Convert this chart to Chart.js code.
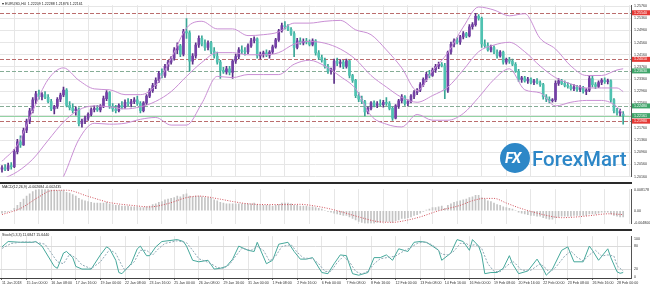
<!DOCTYPE html>
<html>
<head>
<meta charset="utf-8">
<script src="https://cdn.jsdelivr.net/npm/chart.js@4.4.1/dist/chart.umd.min.js"></script>
<style>
  html, body { margin: 0; padding: 0; background: #fff; }
  #wrap { position: relative; width: 650px; height: 288px; overflow: hidden; background: #fff; }
  canvas { position: absolute; left: 0; }
  .sep { position: absolute; left: 0; width: 632px; background: #2a2a2a; }
  #fxBadge { position: absolute; left: 500px; top: 143px; width: 30px; height: 30px; border-radius: 50%; background: #2d87c7; }
  #fxBadge span { position: absolute; left: 5px; top: 6px; font: italic 700 15px/18px Roboto, sans-serif; color: #fff; letter-spacing: -1px; }
  #fxName { position: absolute; left: 532px; top: 149px; font: 500 20.5px/20px Roboto, sans-serif; color: #2d87c7; }
</style>
</head>
<body>
<div id="wrap">
  <canvas id="main" width="650" height="182" style="top:0"></canvas>
  <div class="sep" style="top:182px;height:2px"></div>
  <canvas id="macd" width="650" height="45" style="top:184px"></canvas>
  <div class="sep" style="top:229px;height:2px"></div>
  <canvas id="stoch" width="650" height="57" style="top:231px"></canvas>
  <div id="fxBadge"><span>FX</span></div>
  <div id="fxName">ForexMart</div>
</div>
<script>
// EURUSD H4, 11 Jan - 28 Feb 2018, one entry per bar
const tickLabels = ['11 Jan 2018','15 Jan 00:00','16 Jan 08:00','17 Jan 16:00','19 Jan 00:00','22 Jan 08:00',
  '23 Jan 16:00','25 Jan 00:00','26 Jan 08:00','29 Jan 16:00','31 Jan 00:00','1 Feb 08:00','2 Feb 16:00',
  '6 Feb 00:00','7 Feb 08:00','8 Feb 16:00','12 Feb 00:00','13 Feb 08:00','14 Feb 16:00','16 Feb 00:00',
  '19 Feb 08:00','20 Feb 16:00','22 Feb 00:00','23 Feb 08:00','26 Feb 16:00','28 Feb 00:00'];

const opens = [
  1.2040,1.2045,1.2040,1.2052,1.2048,1.2098,1.2130,1.2120,1.2168,1.2198,
  1.2232,1.2268,1.2288,1.2278,1.2285,1.2276,1.2262,1.2238,1.2246,1.2270,
  1.2284,1.2300,1.2250,1.2242,1.2232,1.2238,1.2190,1.2198,1.2208,1.2220,
  1.2236,1.2240,1.2235,1.2248,1.2272,1.2292,1.2246,1.2238,1.2232,1.2250,
  1.2245,1.2260,1.2255,1.2262,1.2268,1.2256,1.2232,1.2258,1.2280,1.2298,
  1.2315,1.2332,1.2355,1.2348,1.2378,1.2392,1.2405,1.2432,1.2445,1.2418,
  1.2492,1.2488,1.2395,1.2412,1.2448,1.2470,1.2452,1.2440,1.2455,1.2428,
  1.2412,1.2392,1.2365,1.2360,1.2370,1.2358,1.2395,1.2410,1.2432,1.2428,
  1.2425,1.2445,1.2462,1.2468,1.2412,1.2418,1.2422,1.2415,1.2425,1.2442,
  1.2465,1.2495,1.2512,1.2508,1.2500,1.2486,1.2440,1.2462,1.2455,1.2460,
  1.2458,1.2450,1.2462,1.2422,1.2408,1.2398,1.2378,1.2362,1.2368,1.2395,
  1.2388,1.2392,1.2378,1.2396,1.2348,1.2332,1.2282,1.2270,1.2262,1.2228,
  1.2240,1.2258,1.2250,1.2255,1.2252,1.2260,1.2256,1.2240,1.2208,1.2248,
  1.2265,1.2278,1.2256,1.2262,1.2280,1.2292,1.2300,1.2318,1.2335,1.2352,
  1.2348,1.2366,1.2378,1.2385,1.2380,1.2300,1.2425,1.2450,1.2462,1.2458,
  1.2475,1.2486,1.2478,1.2508,1.2515,1.2542,1.2536,1.2452,1.2446,1.2432,
  1.2440,1.2425,1.2412,1.2425,1.2392,1.2400,1.2395,1.2385,1.2362,1.2335,
  1.2340,1.2330,1.2336,1.2325,1.2330,1.2324,1.2318,1.2278,1.2270,1.2265,
  1.2268,1.2322,1.2330,1.2322,1.2315,1.2312,1.2305,1.2310,1.2302,1.2308,
  1.2296,1.2300,1.2338,1.2318,1.2312,1.2325,1.2332,1.2328,1.2330,1.2268,
  1.2232,1.2225,1.2221];
const highs = [
  1.2052,1.2055,1.2060,1.2062,1.2105,1.2138,1.2150,1.2175,1.2205,1.2240,
  1.2275,1.2296,1.2300,1.2292,1.2295,1.2285,1.2270,1.2250,1.2275,1.2290,
  1.2310,1.2305,1.2262,1.2255,1.2245,1.2242,1.2205,1.2215,1.2225,1.2242,
  1.2248,1.2250,1.2252,1.2280,1.2298,1.2295,1.2256,1.2250,1.2255,1.2262,
  1.2268,1.2272,1.2270,1.2275,1.2280,1.2262,1.2262,1.2285,1.2305,1.2322,
  1.2340,1.2362,1.2370,1.2385,1.2398,1.2410,1.2440,1.2455,1.2450,1.2500,
  1.2535,1.2495,1.2420,1.2455,1.2478,1.2478,1.2465,1.2462,1.2460,1.2440,
  1.2425,1.2398,1.2375,1.2378,1.2378,1.2400,1.2418,1.2440,1.2445,1.2440,
  1.2452,1.2470,1.2475,1.2472,1.2425,1.2428,1.2432,1.2430,1.2448,1.2470,
  1.2500,1.2520,1.2525,1.2515,1.2505,1.2492,1.2470,1.2472,1.2468,1.2470,
  1.2465,1.2468,1.2466,1.2430,1.2415,1.2405,1.2385,1.2372,1.2402,1.2405,
  1.2400,1.2398,1.2402,1.2398,1.2352,1.2335,1.2292,1.2280,1.2266,1.2245,
  1.2262,1.2265,1.2262,1.2268,1.2266,1.2275,1.2262,1.2245,1.2252,1.2270,
  1.2285,1.2282,1.2268,1.2285,1.2298,1.2305,1.2325,1.2340,1.2358,1.2365,
  1.2372,1.2385,1.2392,1.2390,1.2388,1.2428,1.2458,1.2468,1.2472,1.2480,
  1.2492,1.2490,1.2515,1.2522,1.2552,1.2548,1.2540,1.2465,1.2455,1.2448,
  1.2445,1.2432,1.2430,1.2428,1.2405,1.2408,1.2402,1.2390,1.2368,1.2345,
  1.2345,1.2342,1.2340,1.2335,1.2338,1.2330,1.2322,1.2285,1.2278,1.2272,
  1.2330,1.2338,1.2335,1.2330,1.2325,1.2320,1.2318,1.2316,1.2315,1.2312,
  1.2305,1.2345,1.2345,1.2325,1.2330,1.2338,1.2340,1.2336,1.2334,1.2272,
  1.2240,1.2238,1.2229];
const lows = [
  1.2030,1.2035,1.2035,1.2040,1.2045,1.2090,1.2112,1.2118,1.2160,1.2190,
  1.2225,1.2255,1.2270,1.2268,1.2272,1.2258,1.2232,1.2222,1.2240,1.2262,
  1.2278,1.2245,1.2235,1.2225,1.2218,1.2182,1.2178,1.2190,1.2200,1.2215,
  1.2228,1.2230,1.2228,1.2242,1.2265,1.2240,1.2230,1.2225,1.2228,1.2238,
  1.2240,1.2248,1.2245,1.2255,1.2250,1.2225,1.2228,1.2252,1.2275,1.2292,
  1.2305,1.2325,1.2340,1.2342,1.2365,1.2385,1.2398,1.2420,1.2410,1.2412,
  1.2470,1.2362,1.2385,1.2405,1.2440,1.2445,1.2430,1.2432,1.2420,1.2405,
  1.2385,1.2338,1.2355,1.2352,1.2350,1.2338,1.2388,1.2402,1.2420,1.2415,
  1.2420,1.2440,1.2455,1.2405,1.2402,1.2408,1.2410,1.2405,1.2420,1.2438,
  1.2460,1.2490,1.2500,1.2495,1.2480,1.2410,1.2435,1.2450,1.2448,1.2452,
  1.2445,1.2445,1.2415,1.2400,1.2392,1.2372,1.2355,1.2352,1.2322,1.2380,
  1.2375,1.2370,1.2372,1.2340,1.2325,1.2275,1.2262,1.2255,1.2215,1.2222,
  1.2235,1.2245,1.2242,1.2248,1.2244,1.2250,1.2235,1.2200,1.2205,1.2240,
  1.2258,1.2250,1.2248,1.2258,1.2272,1.2285,1.2295,1.2312,1.2328,1.2340,
  1.2345,1.2358,1.2370,1.2376,1.2272,1.2292,1.2418,1.2442,1.2452,1.2450,
  1.2468,1.2472,1.2475,1.2500,1.2510,1.2530,1.2440,1.2440,1.2428,1.2425,
  1.2420,1.2405,1.2408,1.2385,1.2385,1.2388,1.2380,1.2358,1.2328,1.2325,
  1.2326,1.2322,1.2320,1.2318,1.2320,1.2312,1.2270,1.2262,1.2258,1.2260,
  1.2262,1.2315,1.2318,1.2310,1.2306,1.2300,1.2298,1.2296,1.2295,1.2290,
  1.2285,1.2295,1.2310,1.2305,1.2308,1.2318,1.2322,1.2320,1.2260,1.2225,
  1.2218,1.2215,1.2188];
const closes = [
  1.2045,1.2040,1.2052,1.2048,1.2098,1.2130,1.2120,1.2168,1.2198,1.2232,
  1.2268,1.2288,1.2278,1.2285,1.2276,1.2262,1.2238,1.2246,1.2270,1.2284,
  1.2300,1.2250,1.2242,1.2232,1.2238,1.2190,1.2198,1.2208,1.2220,1.2236,
  1.2240,1.2235,1.2248,1.2272,1.2292,1.2246,1.2238,1.2232,1.2250,1.2245,
  1.2260,1.2255,1.2262,1.2268,1.2256,1.2232,1.2258,1.2280,1.2298,1.2315,
  1.2332,1.2355,1.2348,1.2378,1.2392,1.2405,1.2432,1.2445,1.2418,1.2492,
  1.2488,1.2395,1.2412,1.2448,1.2470,1.2452,1.2440,1.2455,1.2428,1.2412,
  1.2392,1.2365,1.2360,1.2370,1.2358,1.2395,1.2410,1.2432,1.2428,1.2425,
  1.2445,1.2462,1.2468,1.2412,1.2418,1.2422,1.2415,1.2425,1.2442,1.2465,
  1.2495,1.2512,1.2508,1.2500,1.2486,1.2440,1.2462,1.2455,1.2460,1.2458,
  1.2450,1.2462,1.2422,1.2408,1.2398,1.2378,1.2362,1.2368,1.2395,1.2388,
  1.2392,1.2378,1.2396,1.2348,1.2332,1.2282,1.2270,1.2262,1.2228,1.2240,
  1.2258,1.2250,1.2255,1.2252,1.2260,1.2256,1.2240,1.2208,1.2248,1.2265,
  1.2278,1.2256,1.2262,1.2280,1.2292,1.2300,1.2318,1.2335,1.2352,1.2348,
  1.2366,1.2378,1.2385,1.2380,1.2300,1.2425,1.2450,1.2462,1.2458,1.2475,
  1.2486,1.2478,1.2508,1.2515,1.2542,1.2536,1.2452,1.2446,1.2432,1.2440,
  1.2425,1.2412,1.2425,1.2392,1.2400,1.2395,1.2385,1.2362,1.2335,1.2340,
  1.2330,1.2336,1.2325,1.2330,1.2324,1.2318,1.2278,1.2270,1.2265,1.2268,
  1.2322,1.2330,1.2322,1.2315,1.2312,1.2305,1.2310,1.2302,1.2308,1.2296,
  1.2300,1.2338,1.2318,1.2312,1.2325,1.2332,1.2328,1.2330,1.2268,1.2232,
  1.2225,1.2228,1.2216];

// Bollinger bands (20, 2), read every 5th bar
const bandBars = [0,5,10,15,20,25,30,35,40,45,50,55,60,65,70,75,80,85,90,95,100,
  105,110,115,120,125,130,135,140,145,150,155,160,165,170,175,180,185,190,195,200,202];
const bbUpper = [1.2066,1.2120,1.2232,1.2335,1.2373,1.2332,1.2304,1.2301,1.2285,1.2285,1.2316,
  1.2404,1.2504,1.2526,1.2501,1.2501,1.2479,1.2482,1.2491,1.2520,1.2520,1.2526,1.2529,1.2498,
  1.2482,1.2432,1.2373,1.2298,1.2363,1.2423,1.2507,1.2573,1.2563,1.2544,1.2551,1.2470,1.2435,
  1.2379,1.2348,1.2348,1.2366,1.2370];
const bbMiddle = [1.2007,1.2032,1.2073,1.2135,1.2195,1.2235,1.2248,1.2245,1.2238,1.2245,1.2263,
  1.2295,1.2345,1.2391,1.2423,1.2423,1.2416,1.2416,1.2423,1.2451,1.2460,1.2454,1.2435,1.2401,
  1.2348,1.2310,1.2276,1.2260,1.2282,1.2310,1.2366,1.2426,1.2448,1.2457,1.2426,1.2379,1.2341,
  1.2320,1.2307,1.2307,1.2307,1.2295];
const bbLower = [1.1948,1.1932,1.1932,1.1935,1.2016,1.2138,1.2191,1.2188,1.2191,1.2204,1.2210,
  1.2185,1.2185,1.2257,1.2345,1.2341,1.2351,1.2351,1.2351,1.2385,1.2398,1.2379,1.2345,1.2304,
  1.2216,1.2188,1.2179,1.2220,1.2201,1.2201,1.2223,1.2276,1.2335,1.2370,1.2301,1.2291,1.2248,
  1.2260,1.2266,1.2266,1.2245,1.2220];

// horizontal levels drawn on the price panel
const levelPrices = [1.2554, 1.2401, 1.2363, 1.2248, 1.22161, 1.2198];
const levelKinds = ['red', 'red', 'green', 'green', 'bid', 'red'];
const priceTicks = [1.2016,1.2056,1.2096,1.2136,1.2176,1.2216,1.2256,1.2296,1.2336,1.2376,
  1.2416,1.2456,1.2496,1.2536,1.2576];

// MACD(12,26,9) histogram, one per bar
const macdHist = [
  -0.0009,-0.0006,-0.0003,0,0.0009,0.0021,0.0033,0.0045,0.0057,0.0066,
  0.0075,0.0081,0.0084,0.0084,0.0084,0.0084,0.0081,0.0081,0.0078,0.0078,
  0.0078,0.0072,0.0069,0.0063,0.0057,0.0048,0.0042,0.0039,0.0036,0.0033,
  0.0030,0.0030,0.0030,0.0030,0.0033,0.0027,0.0024,0.0021,0.0021,0.0018,
  0.0018,0.0018,0.0015,0.0015,0.0015,0.0012,0.0012,0.0015,0.0018,0.0024,
  0.0027,0.0033,0.0036,0.0042,0.0045,0.0048,0.0051,0.0057,0.0054,0.0063,
  0.0066,0.0057,0.0054,0.0057,0.0057,0.0054,0.0051,0.0051,0.0048,0.0042,
  0.0039,0.0033,0.0030,0.0027,0.0027,0.0027,0.0027,0.0027,0.0027,0.0027,
  0.0027,0.0027,0.0030,0.0024,0.0021,0.0021,0.0021,0.0021,0.0018,0.0021,
  0.0024,0.0030,0.0030,0.0030,0.0027,0.0021,0.0021,0.0018,0.0018,0.0018,
  0.0015,0.0015,0.0012,0.0009,0.0006,0,-0.0003,-0.0006,-0.0009,-0.0012,
  -0.0015,-0.0018,-0.0018,-0.0024,-0.0030,-0.0036,-0.0042,-0.0045,-0.0048,-0.0048,
  -0.0048,-0.0048,-0.0045,-0.0045,-0.0042,-0.0042,-0.0042,-0.0045,-0.0039,-0.0036,
  -0.0030,-0.0030,-0.0027,-0.0024,-0.0018,-0.0015,-0.0009,-0.0003,0.0003,0.0006,
  0.0012,0.0012,0.0015,0.0018,0.0009,0.0021,0.0027,0.0033,0.0036,0.0039,
  0.0042,0.0045,0.0051,0.0054,0.0060,0.0060,0.0051,0.0045,0.0039,0.0036,
  0.0030,0.0024,0.0021,0.0015,0.0012,0.0009,0.0006,0,-0.0006,-0.0009,
  -0.0012,-0.0015,-0.0018,-0.0018,-0.0021,-0.0021,-0.0027,-0.0030,-0.0033,-0.0033,
  -0.0027,-0.0024,-0.0021,-0.0021,-0.0021,-0.0021,-0.0018,-0.0018,-0.0018,-0.0018,
  -0.0018,-0.0012,-0.0012,-0.0012,-0.0009,-0.0006,-0.0006,-0.0006,-0.0012,-0.0018,
  -0.0021,-0.0024,-0.0024];
const macdSignalBars = [0,6,12,16,21,28,35,43,48,54,60,64,71,75,80,87,93,97,102,106,110,116,122,
  127,132,136,142,149,153,157,160,164,168,173,177,182,187,192,197,202];
const macdSignal = [-0.0015,0.0009,0.0054,0.0078,0.0080,0.0056,0.0032,0.0020,0.0015,0.0028,0.0051,
  0.0057,0.0045,0.0036,0.0027,0.0024,0.0024,0.0025,0.0018,0.0009,-0.0003,-0.0024,-0.0042,-0.0045,
  -0.0036,-0.0024,0.0000,0.0021,0.0039,0.0048,0.0048,0.0030,0.0012,-0.0006,-0.0018,-0.0027,
  -0.0024,-0.0018,-0.0012,-0.0015];
const macdTicks = [0.008178, 0, -0.0048];

// Stochastic(5,3,3)
const stochBars = [0,2,6,10,11,13,17,18,20,21,23,24,26,29,32,34,35,37,38,39,42,44,45,47,48,50,52,
  57,59,60,62,64,67,69,71,73,75,77,80,82,83,86,88,90,93,95,97,99,101,104,106,108,110,112,114,116,
  119,121,123,125,127,129,132,134,136,138,140,142,143,146,147,148,150,152,153,155,156,157,159,161,
  163,165,166,168,171,174,176,177,179,182,184,186,189,191,192,194,197,198,200,201,202];
const stochMain = [79,93,91,91,93,81,28,23,63,67,51,28,21,21,58,79,74,44,12,9,35,74,81,56,56,79,93,
  98,93,81,44,40,44,21,23,28,47,81,70,67,91,35,44,86,91,67,47,47,51,12,9,35,58,56,9,5,12,51,51,58,
  44,74,67,91,93,91,81,70,44,63,81,98,93,70,98,81,58,9,12,12,23,56,35,9,16,47,21,5,21,70,79,40,40,
  81,70,44,74,51,14,10,12];
const stochSigBars = [0,3,7,11,14,18,20,22,24,26,29,32,35,37,39,40,43,45,47,49,51,53,57,60,62,64,66,
  68,70,72,74,76,78,81,83,85,87,89,91,94,96,98,101,103,105,107,109,111,113,115,117,119,121,123,126,
  128,130,133,135,137,139,141,143,145,147,149,151,152,154,156,158,160,162,164,166,167,169,172,175,
  177,178,180,183,185,187,189,191,193,195,197,199,200,202];
const stochSignal = [75,88,92,91,86,40,35,60,50,32,22,40,72,62,30,18,40,70,70,58,75,88,95,90,70,48,
  42,35,25,23,33,55,75,70,80,70,42,55,80,85,65,50,48,35,15,15,38,54,40,15,8,15,35,48,52,55,65,78,
  88,92,88,78,60,58,68,88,88,82,85,75,35,15,14,28,42,35,18,18,35,22,12,25,55,68,52,42,58,70,55,58,
  55,30,16];
const stochTicks = [100, 80, 20, 0];

const mainTitle = '\u25BE EURUSD,H4  1.22209 1.22288 1.21876 1.22161';
const macdTitle = 'MACD(12,26,9) -0.002684 -0.002435';
const stochTitle = 'Stoch(5,3,3) 11.6847 15.6440';

// ---- look ----
Chart.defaults.font.family = '"Liberation Sans", Arial, sans-serif';
Chart.defaults.font.size = 3.6;
Chart.defaults.color = '#333';

const gridColor = '#e6e6e6';
const bandColor = '#c98fd4';
const bullBody = '#7440a6', bearBody = '#4fc2b1';
const bullWick = '#5a2e86', bearWick = '#3aa595';
const levelStyle = {
  red:   { line: '#bb6d6d', dash: [4, 2], box: '#e53935' },
  green: { line: '#86ad96', dash: [4, 2], box: '#3fa56a' },
  bid:   { line: '#93d3a4', dash: [], box: '#3fa56a' }
};
const xMin = -0.65, xMax = 204.55;
const barsPerLabel = 8;

const panelTitle = {
  id: 'panelTitle',
  afterDraw(chart, args, opts) {
    const ctx = chart.ctx;
    ctx.save();
    ctx.font = '3.6px "Liberation Sans", Arial, sans-serif';
    ctx.fillStyle = '#222';
    ctx.textBaseline = 'middle';
    ctx.fillText(opts.text, opts.x, opts.y);
    ctx.restore();
  }
};

const levelLines = {
  id: 'levelLines',
  beforeDatasetsDraw(chart) {
    const { ctx, chartArea, scales: { y } } = chart;
    ctx.save();
    levelPrices.forEach((p, i) => {
      const st = levelStyle[levelKinds[i]];
      const py = Math.round(y.getPixelForValue(p)) + 0.5;
      ctx.strokeStyle = st.line;
      ctx.lineWidth = 1;
      ctx.setLineDash(st.dash);
      ctx.beginPath();
      ctx.moveTo(chartArea.left, py);
      ctx.lineTo(chartArea.right, py);
      ctx.stroke();
    });
    ctx.restore();
  },
  afterDraw(chart) {
    const { ctx, chartArea, scales: { y } } = chart;
    ctx.save();
    ctx.font = '3.6px "Liberation Sans", Arial, sans-serif';
    ctx.textBaseline = 'middle';
    levelPrices.forEach((p, i) => {
      const st = levelStyle[levelKinds[i]];
      const py = y.getPixelForValue(p);
      ctx.fillStyle = st.box;
      ctx.fillRect(chartArea.right + 1, py - 2.5, 18, 5);
      ctx.fillStyle = '#fff';
      ctx.fillText(p.toFixed(5), chartArea.right + 3, py);
    });
    ctx.restore();
  }
};

function timeAxis(showLabels) {
  return {
    type: 'linear', min: xMin, max: xMax, offset: false,
    afterBuildTicks: s => { s.ticks = tickLabels.map((_, k) => ({ value: k * barsPerLabel })); },
    afterFit: s => { s.height = showLabels ? 10 : 0; },
    grid: { color: gridColor, drawTicks: showLabels, tickLength: 2, tickColor: '#666' },
    border: { display: showLabels, color: '#444' },
    ticks: {
      display: showLabels, align: 'start', autoSkip: false, maxRotation: 0, minRotation: 0,
      padding: 1, color: '#333', callback: v => tickLabels[v / barsPerLabel]
    }
  };
}

function valueAxis(min, max, values, format, lineColor) {
  return {
    type: 'linear', position: 'right', min, max,
    afterBuildTicks: s => { s.ticks = values.map(v => ({ value: v })); },
    afterFit: s => { s.width = 19; },
    grid: { color: lineColor, drawTicks: false },
    border: { display: true, color: '#555' },
    ticks: { autoSkip: false, padding: 3, color: '#333', callback: format }
  };
}

const common = {
  responsive: false, animation: false, devicePixelRatio: 1,
  events: []
};

function pts(xs, ys) { return xs.map((x, k) => ({ x, y: ys[k] })); }

function bandLine(values) {
  return {
    type: 'line', data: pts(bandBars, values), borderColor: bandColor, borderWidth: 1,
    pointRadius: 0, cubicInterpolationMode: 'monotone'
  };
}

new Chart(document.getElementById('main'), {
  type: 'bar',
  data: {
    datasets: [
      bandLine(bbUpper),
      bandLine(bbMiddle),
      bandLine(bbLower),
      {
        type: 'bar', data: opens.map((o, i) => ({ x: i, y: [o, closes[i]] })),
        backgroundColor: opens.map((o, i) => closes[i] >= o ? bullBody : bearBody),
        barThickness: 2, grouped: false, minBarLength: 1, borderWidth: 0
      },
      {
        type: 'bar', data: lows.map((l, i) => ({ x: i, y: [l, highs[i]] })),
        backgroundColor: opens.map((o, i) => closes[i] >= o ? bullWick : bearWick),
        barThickness: 1, grouped: false, borderWidth: 0
      }
    ]
  },
  options: {
    ...common,
    layout: { padding: { top: 1, bottom: 1, left: 0, right: 0 } },
    plugins: { legend: { display: false }, tooltip: { enabled: false },
      panelTitle: { text: mainTitle, x: 2, y: 4 } },
    scales: {
      x: timeAxis(false),
      y: valueAxis(1.2015, 1.2579, priceTicks, v => v.toFixed(5), gridColor)
    }
  },
  plugins: [panelTitle, levelLines]
});

new Chart(document.getElementById('macd'), {
  type: 'bar',
  data: {
    datasets: [
      {
        type: 'line', data: pts(macdSignalBars, macdSignal), borderColor: '#d0505a', borderWidth: 1,
        borderDash: [1, 1.5], pointRadius: 0, cubicInterpolationMode: 'monotone'
      },
      {
        type: 'bar', data: macdHist.map((v, i) => ({ x: i, y: v })), backgroundColor: '#c4c4c4',
        barThickness: 1, grouped: false, borderWidth: 0
      }
    ]
  },
  options: {
    ...common,
    layout: { padding: 0 },
    plugins: { legend: { display: false }, tooltip: { enabled: false },
      panelTitle: { text: macdTitle, x: 2, y: 3 } },
    scales: {
      x: timeAxis(false),
      y: valueAxis(-0.0051, 0.0084, macdTicks, v => v === 0 ? '0.00' : v.toFixed(6), 'transparent')
    }
  },
  plugins: [panelTitle]
});

new Chart(document.getElementById('stoch'), {
  type: 'line',
  data: {
    datasets: [
      { data: pts(stochSigBars, stochSignal), borderColor: '#8ea8b4', borderWidth: 1, borderDash: [2, 1.5], pointRadius: 0 },
      { data: pts(stochBars, stochMain), borderColor: '#45a89b', borderWidth: 1, pointRadius: 0 }
    ]
  },
  options: {
    ...common,
    layout: { padding: 0 },
    plugins: { legend: { display: false }, tooltip: { enabled: false },
      panelTitle: { text: stochTitle, x: 2, y: 4 } },
    scales: {
      x: timeAxis(true),
      y: valueAxis(-2.3, 107, stochTicks, v => String(v),
        c => (c.tick && (c.tick.value === 20 || c.tick.value === 80)) ? '#dadada' : 'transparent')
    }
  },
  plugins: [panelTitle]
});
</script>
</body>
</html>
